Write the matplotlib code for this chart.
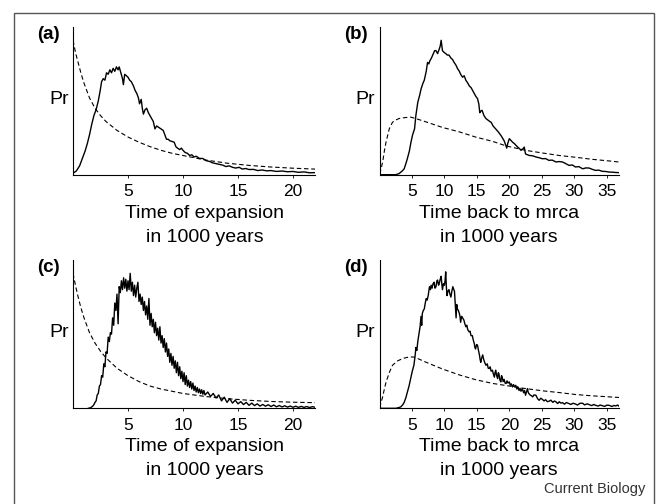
import matplotlib
matplotlib.use('Agg')
import matplotlib.pyplot as plt
from matplotlib.patches import Rectangle

plt.rcParams['font.family'] = ['Liberation Sans', 'DejaVu Sans']

# ---- panel (a): time of expansion, solid = simulated, dashed = prior ----
a_x = [0.0, 0.3, 0.6, 0.9, 1.1, 1.3, 1.5, 1.7, 1.9, 2.1, 2.3, 2.45, 2.6, 2.75, 2.9, 3.05, 3.2,
       3.35, 3.5, 3.65, 3.8, 3.95, 4.1, 4.2, 4.35, 4.5, 4.58, 4.7, 4.85, 5.0, 5.15, 5.3, 5.5,
       5.65, 5.8, 5.95, 6.05, 6.2, 6.3, 6.4, 6.55, 6.7, 6.85, 7.0, 7.15, 7.3, 7.45, 7.6, 7.8,
       8.0, 8.2, 8.35, 8.5, 8.65, 8.8, 9.0, 9.2, 9.35, 9.5, 9.7, 9.85, 10.0, 10.2, 10.4, 10.6,
       10.8, 11.0, 11.2, 11.5, 11.8, 12.1, 12.4, 12.7, 13.0, 13.3, 13.6, 13.9, 14.2, 14.5,
       14.8, 15.1, 15.4, 15.7, 16.0, 16.4, 16.8, 17.2, 17.6, 18.0, 18.5, 19.0, 19.5, 20.0,
       20.5, 21.0, 21.5, 22.0]
a_y = [1.0, 2.5, 6, 12, 16, 21, 27, 34, 40, 44, 50, 56, 63, 65, 64, 69, 68,
       71, 69, 72, 70, 73, 71, 73, 69, 65, 61, 68, 67, 66, 64, 63, 60,
       57, 55, 52, 48, 51, 45, 41, 44, 45, 42, 40, 38, 36, 31, 33, 32,
       31, 30, 27, 24, 24, 23, 22.5, 22, 19, 18, 17, 18, 16.5, 15, 14.5, 13,
       13.5, 12, 12.5, 11, 11, 9.5, 9, 8, 7.5, 7, 6.5, 5.5, 6, 5,
       4.5, 5, 3.8, 4.2, 3.5, 3.6, 2.8, 3.2, 2.6, 2.8, 2.2, 2.5, 2.0, 2.2,
       1.6, 1.9, 1.3, 1.4]
a_dx = [0, 0.25, 0.5, 0.75, 1, 1.5, 2, 2.5, 3, 4, 5, 6, 7, 8, 9, 10, 12, 14, 16, 18, 20, 22]
a_dy = [91, 82, 75, 68, 62, 52, 45, 40, 36, 30, 25.5, 22, 19, 16.5, 14.5, 13, 10, 7.8, 6.3, 5.2, 4.4, 3.8]

# ---- panel (b): time back to mrca ----
b_x = [0, 2.5, 3.0, 3.5, 3.8, 4.1, 4.3, 4.6, 4.85, 5.1, 5.4, 5.6, 5.9, 6.2, 6.4, 6.7, 6.9,
       7.2, 7.4, 7.6, 7.75, 8.0, 8.2, 8.5, 8.7, 8.95, 9.2, 9.35, 9.5, 9.7, 9.9, 10.2, 10.45,
       10.7, 11.0, 11.25, 11.5, 11.8, 12.0, 12.3, 12.5, 12.8, 13.05, 13.3, 13.6, 13.85, 14.1,
       14.35, 14.6, 14.85, 15.1, 15.3, 15.45, 15.6, 15.8, 16.1, 16.4, 16.7, 17.0, 17.2, 17.5,
       17.9, 18.3, 18.7, 19.0, 19.2, 19.45, 19.6, 19.75, 20.0, 20.3, 20.5, 20.8, 21.0, 21.3,
       21.6, 21.8, 22.1, 22.3, 22.5, 22.8, 23.1, 23.6, 24.1, 24.6, 25.1, 25.6, 26.1, 26.6,
       27.2, 27.7, 28.2, 28.7, 29.2, 29.7, 30.2, 30.7, 31.3, 31.8, 32.3, 32.8, 33.3, 33.8,
       34.3, 34.8, 35.4, 35.9, 36.4, 36.9]
b_y = [0, 0, 0.7, 2.5, 4, 8, 11, 16, 22, 27, 31, 40, 49, 54, 58, 62, 64,
       70, 76, 75, 77, 79, 81, 84, 84, 82, 85, 87, 91, 84, 83, 82, 81,
       81, 79, 78, 76, 74, 72, 70, 68, 66, 67, 64, 62, 60, 59,
       57, 55, 53, 51.5, 48, 42, 43, 43.6, 40, 38, 37, 36, 35.5, 33,
       31, 29, 26.6, 24.5, 23, 20, 18, 21, 24.4, 23, 22, 21, 20, 18.7,
       17.5, 16.5, 17.5, 18.7, 14, 13.5, 13, 12.8, 12, 11.5, 10.8, 10.9, 9.7, 9.9,
       8.6, 8.9, 8.6, 7.5, 6.3, 6.6, 5.2, 5.5, 4, 4.6, 4.5, 3.6, 2.9, 3.1,
       2.3, 2.2, 1.8, 1.7, 1.5, 1.4]
b_dx = [0, 0.25, 0.5, 0.75, 1, 1.5, 2, 2.5, 3, 3.6, 4.8, 5.6, 7.2, 9.7, 12.3, 14.8, 17.4,
        19.5, 22.5, 25.1, 27.7, 30.2, 32.8, 35.4, 36.9]
b_dy = [0.5, 4, 9, 16, 22, 31, 35.5, 37, 38, 38.5, 39, 38, 35.7, 32, 29, 25.5, 22.6,
        19.5, 16.5, 14.7, 13, 11.8, 10.4, 9.3, 8.6]

# ---- panel (c): time of expansion, noisier run ----
c_x = [1.4, 1.6, 1.8, 1.9,
       2.0, 2.1, 2.2, 2.3, 2.4, 2.5, 2.6, 2.7, 2.8, 2.9, 3.0, 3.1, 3.2, 3.3, 3.4, 3.5, 3.6,
       3.7, 3.8, 3.9, 4.0, 4.1, 4.2, 4.3, 4.4, 4.5, 4.6, 4.7, 4.8, 4.9, 5.0, 5.1, 5.2, 5.3,
       5.4, 5.5, 5.6, 5.7, 5.8, 5.9, 6.0, 6.1, 6.2, 6.3, 6.4, 6.5, 6.6, 6.7, 6.8, 6.9, 7.0,
       7.1, 7.2, 7.3, 7.4, 7.5, 7.6, 7.7, 7.8, 7.9, 8.0, 8.1, 8.2, 8.3, 8.4, 8.5, 8.6, 8.7,
       8.8, 8.9, 9.0, 9.1, 9.2, 9.3, 9.4, 9.5, 9.6, 9.7, 9.8, 9.9, 10.0, 10.1, 10.2, 10.3,
       10.4, 10.5, 10.6, 10.7, 10.8, 10.9, 11.0, 11.1, 11.2, 11.3, 11.4, 11.5, 11.6, 11.7,
       11.8, 11.9, 12.0,
       12.25, 12.5, 12.75, 13.0, 13.25, 13.5, 13.75, 14.0, 14.25, 14.5, 14.75, 15.0, 15.25,
       15.5, 15.75, 16.0, 16.25, 16.5, 16.75, 17.0, 17.25, 17.5, 17.75, 18.0, 18.25, 18.5,
       18.75, 19.0, 19.25, 19.5, 19.75, 20.0, 20.25, 20.5, 20.75, 21.0, 21.25, 21.5, 21.75, 22.0]
c_y = [0, 0.4, 1.5, 2.5,
       4, 5, 9, 10, 15, 16, 22, 21, 30, 28, 38, 37, 48, 45, 51, 50, 61,
       56, 71, 66, 77, 57, 82, 78, 86, 80, 88, 81, 87, 79, 86, 80, 91, 79,
       85, 76, 83, 75, 81, 85, 72, 77, 70, 75, 66, 72, 63, 69, 60, 74, 56,
       64, 55, 60, 51, 58, 49, 54, 46, 55, 44, 49, 41, 47, 38, 44, 35, 40,
       31, 37, 29, 35, 27, 32, 24, 31, 22, 28, 20, 25, 18, 24, 16, 22,
       15, 19, 14, 18, 13, 17, 12, 15, 11, 14, 10.5, 13, 10, 12.5,
       9.5, 12, 9,
       11, 8, 10, 7, 9, 5, 7.5, 4, 6.5, 3.5, 5.5, 3, 4.5,
       2.5, 4, 2, 3.5, 1.8, 3, 1.5, 2.6, 1.4, 2.4, 1.2, 2.2, 1.0,
       1.9, 0.9, 1.7, 0.8, 1.5, 0.7, 1.4, 0.6, 1.3, 0.6, 1.2, 0.5, 1.1, 0.7]
c_dx = [0, 0.25, 0.5, 0.75, 1, 1.5, 2, 2.5, 3, 4, 5, 6, 7, 8, 9, 10, 12, 14, 16, 18, 20, 22]
c_dy = [91, 82, 74, 67, 61, 51, 44, 38.5, 34, 27, 22, 18, 15, 13, 11.5, 10, 8, 6.5, 5.4, 4.6, 4.1, 3.8]

# ---- panel (d): time back to mrca, noisier run ----
d_x = [0, 2.5, 3.0, 3.3, 3.6, 3.8, 4.05, 4.3, 4.55, 4.8, 5.05, 5.3, 5.5, 5.6, 5.75, 5.9, 6.1,
       6.25, 6.4, 6.5, 6.6, 6.75, 6.9, 7.05, 7.2, 7.35, 7.5, 7.7, 7.85, 7.95, 8.1, 8.25, 8.4,
       8.55, 8.7, 8.85, 8.95, 9.1, 9.2, 9.35, 9.5, 9.6, 9.7, 9.85, 10.0, 10.1, 10.2, 10.3,
       10.4, 10.55, 10.7, 10.85, 11.0, 11.15, 11.3, 11.45, 11.55, 11.7, 11.8, 11.9, 12.0,
       12.15, 12.3, 12.4, 12.5, 12.65, 12.8, 13.0, 13.15, 13.3, 13.45, 13.6, 13.8, 13.95,
       14.1, 14.3, 14.45, 14.6, 14.7, 14.8, 14.95, 15.1, 15.25, 15.4, 15.5, 15.6, 15.75, 15.9,
       16.05, 16.2, 16.4, 16.6, 16.75, 16.9, 17.05, 17.2, 17.4, 17.55, 17.7, 17.8, 17.9, 18.05,
       18.2, 18.3, 18.4, 18.55, 18.7, 18.8, 18.9, 19.05, 19.2, 19.35, 19.5, 19.65, 19.8, 20.0,
       20.15, 20.3, 20.5, 20.65, 20.8, 21.0, 21.15, 21.3, 21.5, 21.65, 21.8, 22.0, 22.2, 22.35,
       22.5, 22.65, 22.8, 22.9, 23.0, 23.2, 23.4, 23.6, 23.8, 24.1, 24.35, 24.6, 24.85, 25.1,
       25.35, 25.6, 25.85, 26.1, 26.4, 26.7, 26.95, 27.2, 27.45, 27.7, 27.95, 28.2, 28.5, 28.8,
       29.2, 29.5, 29.8, 30.2, 30.5, 30.9, 31.3, 31.6, 32.0, 32.3, 32.7, 33.0, 33.3, 33.7,
       34.0, 34.3, 34.7, 35.0, 35.4, 35.8, 36.1, 36.4, 36.7, 36.9]
d_y = [0, 0, 0.5, 1, 2.5, 4, 7, 11, 15, 20, 25, 29, 36, 41, 39, 45, 51,
       55, 62, 56, 64, 66, 67, 71, 74, 73, 76, 82, 80, 83, 81, 84, 85,
       81, 82, 86, 86.5, 83, 84, 87, 89, 84, 80, 84, 83, 86, 92, 82,
       76, 79, 80, 77, 75, 79, 82, 80, 79, 68, 61, 70, 67,
       66, 64, 62, 58, 62, 61, 59.5, 57, 55, 56, 53, 51.6, 52,
       49, 49, 46, 43.7, 41, 40, 43, 42.6, 39, 36, 33, 31, 34, 36,
       33, 31, 29, 30, 27, 26.8, 28, 25, 25.7, 23, 21, 24, 25.7, 22,
       20, 24, 23.4, 19, 17.8, 22, 21, 18, 19.5, 17, 16.7, 18.5, 17, 17.8,
       15.5, 16.5, 14.4, 16, 14.5, 15.5, 13, 14.5, 12, 13.5, 11.5, 13.3, 10.5, 12,
       8.8, 11, 13.3, 11, 10, 9, 8.5, 7.7, 9, 8.8, 6.5, 5.4, 6.8, 6,
       5, 5.8, 4.5, 4.7, 5.5, 4, 4.9, 4.3, 3.2, 4.4, 3.5, 3.8, 2.8, 3.9,
       3.2, 2.6, 3.4, 2.9, 2.2, 3.4, 3.4, 2.3, 3.0, 2.5, 1.8, 2.6, 2, 1.5,
       2.2, 1.8, 1.3, 2.1, 2, 1.2, 1.9, 1.6, 2.2, 1.4]
d_dx = [0, 0.25, 0.5, 0.75, 1, 1.5, 2, 2.8, 3.6, 4.6, 5.4, 7.2, 9.7, 12.3, 14.8, 17.4,
        20, 22.5, 25.1, 27.7, 30.2, 32.8, 35.4, 36.9]
d_dy = [0.5, 4, 8, 13, 17.5, 24, 29, 32, 33.6, 34.7, 34.5, 31, 26.5, 22.5, 19.3, 16.8,
        15, 13.3, 11.8, 10.6, 9.3, 8.4, 7.7, 7.3]

ticks_exp = [5, 10, 15, 20]
ticks_mrca = [5, 10, 15, 20, 25, 30, 35]
label_exp = 'Time of expansion\nin 1000 years'
label_mrca = 'Time back to mrca\nin 1000 years'

W, H = 659, 504
fig = plt.figure(figsize=(W / 100, H / 100), dpi=100)

# outer frame (bottom edge runs off the page)
fig.add_artist(Rectangle((14 / W, -0.1), (654 - 14) / W, 1.1 - 13 / H,
                         transform=fig.transFigure, fill=False, lw=1.0, ec='#555555'))

# tag, box in pixels (left, top, right, bottom), data, xmax, ticks, label, label y
panels = [
    ('(a)', [73, 27, 315, 174.7], a_x, a_y, a_dx, a_dy, 22.0, ticks_exp, label_exp, -0.205),
    ('(b)', [379.5, 27, 619, 174.7], b_x, b_y, b_dx, b_dy, 36.9, ticks_mrca, label_mrca, -0.205),
    ('(c)', [73, 260, 315, 408.3], c_x, c_y, c_dx, c_dy, 22.0, ticks_exp, label_exp, -0.2),
    ('(d)', [379.5, 260, 619, 408.3], d_x, d_y, d_dx, d_dy, 36.9, ticks_mrca, label_mrca, -0.2),
]

for tag, (x0, y0, x1, y1), sx, sy, dx, dy, xmax, ticks, xlabel, ly in panels:
    ax = fig.add_axes([x0 / W, 1 - y1 / H, (x1 - x0) / W, (y1 - y0) / H])
    ax.plot(sx, sy, color='black', lw=1.0)
    ax.plot(dx, dy, color='black', lw=0.8, dashes=(4, 2.5))
    ax.set_xlim(0, xmax)
    ax.set_ylim(0, 100)
    for s in ('top', 'right'):
        ax.spines[s].set_visible(False)
    for s in ('left', 'bottom'):
        ax.spines[s].set_linewidth(0.8)
    ax.set_yticks([])
    ax.set_xticks(ticks)
    ax.set_xticklabels([str(t) for t in ticks])
    ax.tick_params(axis='x', length=2.5, width=0.6, pad=4.5, labelsize=12.5)
    ax.set_xlabel(xlabel, fontsize=14, linespacing=1.55)
    cx = 0.545 if xmax < 30 else 0.5
    ax.xaxis.set_label_coords(cx, ly)
    ax.text(-0.018, 0.51, 'Pr', transform=ax.transAxes, ha='right', va='center', fontsize=14)
    ax.text(-0.1, 0.95, tag, transform=ax.transAxes, ha='center', va='center',
            fontsize=13.5, fontweight='bold')

fig.text(645 / W, 1 - 489 / H, 'Current Biology', ha='right', va='center',
         fontsize=10.5, color='#333333')

fig.savefig('out.png', dpi=100)
